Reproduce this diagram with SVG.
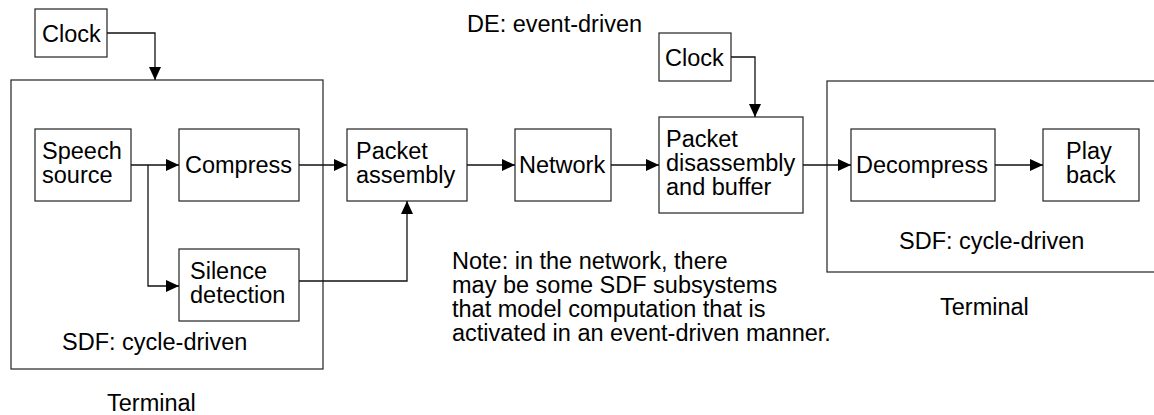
<svg xmlns="http://www.w3.org/2000/svg" width="1154" height="415" viewBox="0 0 1154 415">
<style>
.box{fill:#fff;stroke:#333;stroke-width:1.3}
.frame{fill:none;stroke:#333;stroke-width:1.3}
.wire{fill:none;stroke:#111;stroke-width:1.3}
text{font-family:"Liberation Sans",Arial,sans-serif;font-size:23.5px;fill:#000}
</style>
<defs>
<marker id="arr" viewBox="0 0 13 12" refX="13" refY="6" markerWidth="13" markerHeight="12" markerUnits="userSpaceOnUse" orient="auto">
<path d="M0,0 L13,6 L0,12 Z" fill="#000"/>
</marker>
</defs>
<rect width="1154" height="415" fill="#fff"/>
<g id="terminal-left">
<rect class="frame" x="11" y="80" width="312" height="289"/>
<text x="62" y="350">SDF: cycle-driven</text>
<text x="107" y="411">Terminal</text>
</g>
<g id="terminal-right">
<rect class="frame" x="827" y="81" width="340" height="191"/>
<text x="899" y="249">SDF: cycle-driven</text>
<text x="940" y="315">Terminal</text>
</g>
<g id="de-label">
<text x="467" y="32">DE: event-driven</text>
</g>
<g id="note">
<text x="452" y="269">Note: in the network, there</text>
<text x="452" y="293">may be some SDF subsystems</text>
<text x="452" y="317">that model computation that is</text>
<text x="452" y="341">activated in an event-driven manner.</text>
</g>
<g id="clock1">
<rect class="box" x="35" y="9" width="72" height="48"/>
<text x="42" y="42">Clock</text>
</g>
<g id="speech-source">
<rect class="box" x="35" y="129" width="96" height="72"/>
<text x="42" y="159">Speech</text>
<text x="42" y="183">source</text>
</g>
<g id="compress">
<rect class="box" x="179" y="129" width="120" height="72"/>
<text x="185" y="173">Compress</text>
</g>
<g id="silence-detection">
<rect class="box" x="179" y="249" width="120" height="72"/>
<text x="190" y="279">Silence</text>
<text x="190" y="303">detection</text>
</g>
<g id="packet-assembly">
<rect class="box" x="347" y="129" width="120" height="72"/>
<text x="356" y="159">Packet</text>
<text x="356" y="183">assembly</text>
</g>
<g id="network">
<rect class="box" x="515" y="129" width="96" height="72"/>
<text x="519" y="173">Network</text>
</g>
<g id="clock2">
<rect class="box" x="659" y="33" width="72" height="48"/>
<text x="665" y="66">Clock</text>
</g>
<g id="packet-disassembly">
<rect class="box" x="659" y="117" width="144" height="96"/>
<text x="666" y="147">Packet</text>
<text x="666" y="171">disassembly</text>
<text x="666" y="195">and buffer</text>
</g>
<g id="decompress">
<rect class="box" x="851" y="129" width="144" height="72"/>
<text x="856" y="173">Decompress</text>
</g>
<g id="playback">
<rect class="box" x="1043" y="129" width="96" height="72"/>
<text x="1066" y="159">Play</text>
<text x="1066" y="183">back</text>
</g>
<g id="connectors">
<path class="wire" d="M107,33 H155 V80" marker-end="url(#arr)"/>
<path class="wire" d="M131,165 H179" marker-end="url(#arr)"/>
<path class="wire" d="M148,165 V286 H179" marker-end="url(#arr)"/>
<path class="wire" d="M299,165 H347" marker-end="url(#arr)"/>
<path class="wire" d="M299,281 H407 V201" marker-end="url(#arr)"/>
<path class="wire" d="M467,165 H515" marker-end="url(#arr)"/>
<path class="wire" d="M611,165 H659" marker-end="url(#arr)"/>
<path class="wire" d="M731,57 H755 V117" marker-end="url(#arr)"/>
<path class="wire" d="M803,165 H851" marker-end="url(#arr)"/>
<path class="wire" d="M995,165 H1043" marker-end="url(#arr)"/>
</g>
</svg>
